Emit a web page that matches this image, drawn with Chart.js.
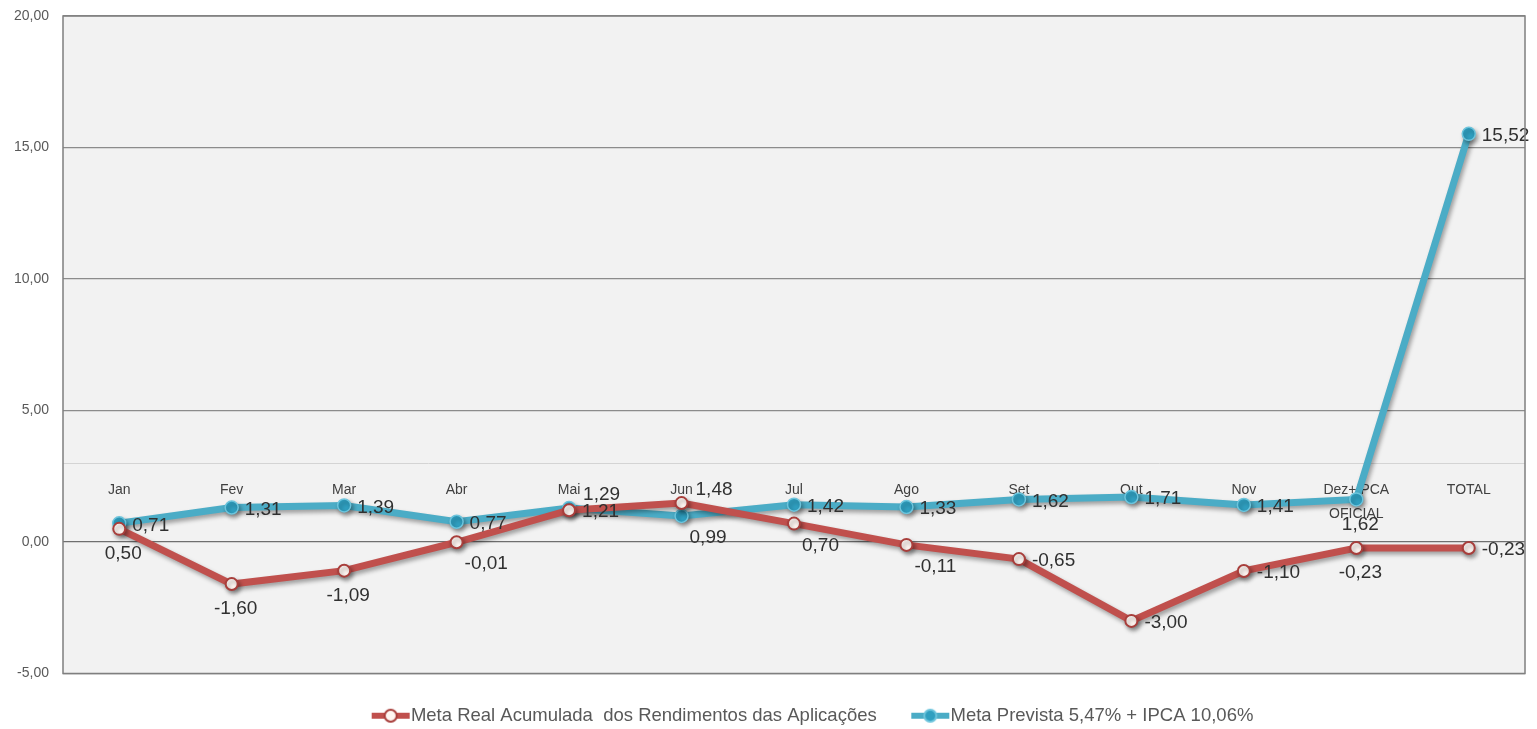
<!DOCTYPE html>
<html>
<head>
<meta charset="utf-8">
<script src="https://cdn.jsdelivr.net/npm/chart.js@4.4.1/dist/chart.umd.min.js"></script>
<style>
  html, body { margin: 0; padding: 0; background: #ffffff; }
  #wrap { width: 1537px; height: 729px; }
</style>
</head>
<body>
<div id="wrap"><canvas id="myChart"></canvas></div>
<script>
const meses = ['Jan', 'Fev', 'Mar', 'Abr', 'Mai', 'Jun', 'Jul', 'Ago', 'Set', 'Out', 'Nov', ['Dez+IPCA', 'OFICIAL'], 'TOTAL'];
const metaReal = [0.50, -1.60, -1.09, -0.01, 1.21, 1.48, 0.70, -0.11, -0.65, -3.00, -1.10, -0.23, -0.23];
const metaPrevista = [0.71, 1.31, 1.39, 0.77, 1.29, 0.99, 1.42, 1.33, 1.62, 1.71, 1.41, 1.62, 15.52];
const yTicks = [-5, 0, 5, 10, 15, 20];

// where each value label sits next to its point
const posReal = ['b', 'b', 'b', 'rb', 'r', 'ra', 'rb', 'rb', 'r', 'r', 'r', 'b', 'r'];
const posPrevista = ['r', 'r', 'r', 'r', 'ra', 'rb', 'r', 'r', 'r', 'r', 'r', 'b', 'r'];

const RED = '#c0504d';
const BLUE = '#4bacc6';
const fmt = v => v.toFixed(2).replace('.', ',');
const labelFont = '19px "Liberation Sans Narrow", "Liberation Sans", sans-serif';

// legend icon: line with a marker on it, like in Excel
function legendIcon(lineColor, fill, stroke) {
    const c = document.createElement('canvas');
    c.width = 58; c.height = 16;
    const g = c.getContext('2d');
    g.strokeStyle = lineColor;
    g.lineWidth = 6;
    g.beginPath(); g.moveTo(19, 8); g.lineTo(57, 8); g.stroke();
    g.fillStyle = fill;
    g.strokeStyle = stroke;
    g.lineWidth = 2;
    g.beginPath(); g.arc(38, 8, 6, 0, Math.PI * 2); g.fill(); g.stroke();
    return c;
}

const plotBg = {
    id: 'plotBg',
    beforeDraw(chart) {
        const a = chart.chartArea, c = chart.ctx, y = chart.scales.y;
        c.save();
        c.fillStyle = '#f2f2f2';
        c.fillRect(a.left, a.top, a.right - a.left, a.bottom - a.top);
        // faint line at 3
        c.strokeStyle = '#d4d4d4';
        c.lineWidth = 1;
        const y3 = Math.round(y.getPixelForValue(3)) + 0.5;
        c.beginPath(); c.moveTo(a.left, y3); c.lineTo(a.right, y3); c.stroke();
        c.restore();
    },
    afterDraw(chart) {
        const a = chart.chartArea, c = chart.ctx;
        c.save();
        c.strokeStyle = '#7f7f7f';
        c.lineWidth = 1.5;
        c.strokeRect(a.left, a.top, a.right - a.left, a.bottom - a.top);
        c.restore();
    }
};

// nudge legend a bit to the right, it sits under the plot not the canvas
const legendShift = {
    id: 'legendShift',
    afterLayout(chart) {
        if (chart.legend) chart.legend.left += 90;
    }
};

const shadow = {
    id: 'shadow',
    beforeDatasetDraw(chart) {
        const c = chart.ctx;
        c.save();
        c.shadowColor = 'rgba(0,0,0,0.35)';
        c.shadowBlur = 4;
        c.shadowOffsetX = 2;
        c.shadowOffsetY = 3;
    },
    afterDatasetDraw(chart) {
        chart.ctx.restore();
    }
};

const catLabels = {
    id: 'catLabels',
    beforeDatasetsDraw(chart) {
        const c = chart.ctx, x = chart.scales.x, y = chart.scales.y;
        const base = y.getPixelForValue(3) + 27;
        c.save();
        c.font = '14px "Liberation Sans Narrow", "Liberation Sans", sans-serif';
        c.fillStyle = '#404040';
        c.textAlign = 'center';
        c.textBaseline = 'middle';
        meses.forEach((m, i) => {
            const px = x.getPixelForValue(i);
            const lines = Array.isArray(m) ? m : [m];
            lines.forEach((t, k) => c.fillText(t, px, base + k * 24));
        });
        c.restore();
    }
};

const offsets = {
    b:  { dx: 4,  dy: 25, align: 'center' },
    r:  { dx: 13, dy: 2,  align: 'left' },
    rb: { dx: 8,  dy: 22, align: 'left' },
    ra: { dx: 14, dy: -13, align: 'left' }
};

const valueLabels = {
    id: 'valueLabels',
    afterDatasetsDraw(chart) {
        const c = chart.ctx;
        c.save();
        c.font = labelFont;
        c.fillStyle = '#303030';
        c.textBaseline = 'middle';
        chart.data.datasets.forEach((ds, di) => {
            const meta = chart.getDatasetMeta(di);
            const pos = di === 0 ? posReal : posPrevista;
            meta.data.forEach((pt, i) => {
                const o = offsets[pos[i]];
                c.textAlign = o.align;
                c.fillText(fmt(ds.data[i]), pt.x + o.dx, pt.y + o.dy);
            });
        });
        c.restore();
    }
};

const ctx = document.getElementById('myChart').getContext('2d');
const myChart = new Chart(ctx, {
    type: 'line',
    data: {
        labels: meses,
        datasets: [{
            label: 'Meta Real Acumulada  dos Rendimentos das Aplicações',
            data: metaReal,
            borderColor: RED,
            borderWidth: 7,
            pointRadius: 6,
            pointBackgroundColor: '#fff6f2',
            pointBorderColor: '#a83e3b',
            pointBorderWidth: 2,
            tension: 0
        }, {
            label: 'Meta Prevista 5,47% + IPCA 10,06%',
            data: metaPrevista,
            borderColor: BLUE,
            borderWidth: 7,
            pointRadius: 6.5,
            pointBackgroundColor: '#2f9fc0',
            pointBorderColor: '#6cc4dc',
            pointBorderWidth: 1.5,
            tension: 0
        }]
    },
    options: {
        responsive: true,
        maintainAspectRatio: false,
        animation: false,
        layout: { padding: { top: 16, right: 12, left: 0, bottom: -6 } },
        plugins: {
            tooltip: { enabled: false },
            legend: {
                position: 'bottom',
                labels: {
                    usePointStyle: true,
                    pointStyleWidth: 40,
                    padding: 4,
                    color: '#595959',
                    font: { family: '"Liberation Sans", sans-serif', size: 18.5 },
                    generateLabels(chart) {
                        return chart.data.datasets.map((ds, i) => ({
                            text: i === 0 ? ds.label + '    ' : ds.label,
                            datasetIndex: i,
                            fontColor: '#595959',
                            pointStyle: i === 0 ? legendIcon(RED, '#fff6f2', '#a83e3b') : legendIcon(BLUE, '#2f9fc0', '#6cc4dc'),
                            lineWidth: 0
                        }));
                    }
                }
            }
        },
        scales: {
            x: {
                display: true,
                offset: true,
                grid: { display: false },
                border: { display: false },
                ticks: { display: false },
                afterFit(scale) { scale.height = 29; }
            },
            y: {
                min: -5,
                max: 20,
                afterBuildTicks(scale) {
                    scale.ticks = yTicks.map(v => ({ value: v }));
                },
                afterFit(scale) {
                    scale.width = 63;
                    scale.paddingTop = 0;
                    scale.paddingBottom = 0;
                },
                border: { display: false },
                grid: {
                    drawTicks: false,
                    color: ctx => ctx.tick && ctx.tick.value === 0 ? '#6f6f6f' : '#8c8c8c',
                    lineWidth: 1.2
                },
                ticks: {
                    padding: 14,
                    color: '#595959',
                    font: { family: '"Liberation Sans Narrow", "Liberation Sans", sans-serif', size: 14 },
                    callback: v => fmt(v)
                }
            }
        }
    },
    plugins: [plotBg, legendShift, catLabels, shadow, valueLabels]
});
</script>
</body>
</html>
